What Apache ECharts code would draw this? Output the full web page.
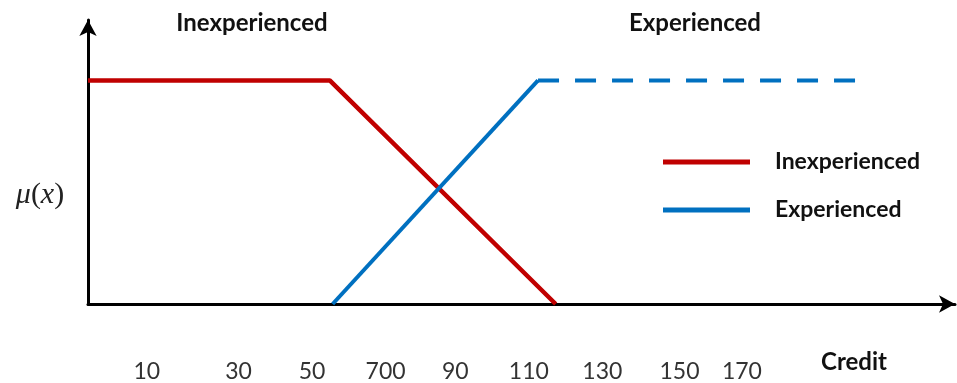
<!DOCTYPE html>
<html><head><meta charset="utf-8">
<script src="https://cdn.jsdelivr.net/npm/echarts@6/dist/echarts.min.js"></script>
<style>html,body{margin:0;padding:0;background:#fff}#c{width:957px;height:383px}</style>
</head><body><div id="c"></div>
<script>
// Credit positions of the tick labels and their texts (as printed)
const tickValues = [5, 30, 50, 70, 89, 109, 129, 150, 167];
const tickLabels = ['10', '30', '50', '700', '90', '110', '130', '150', '170'];
// Membership functions [credit, mu]
const inexperienced = [[-11, 1], [54.8, 1], [116.3, 0]];
const experiencedSolid = [[55.6, 0], [111.5, 1]];
const experiencedDashed = [[111.5, 1], [198, 1]];
const seriesNames = ['Inexperienced', 'Experienced'];

const chart = echarts.init(document.getElementById('c'), null, {renderer: 'canvas'});
const font = 'Lato, "Open Sans", sans-serif';
const serif = '"Liberation Serif", serif';
chart.setOption({
  animation: false,
  backgroundColor: '#fff',
  grid: {left: 88, right: 2, top: 20, bottom: 78, containLabel: false},
  xAxis: {
    type: 'value', min: -11, max: 225,
    axisLine: {show: true, onZero: false, lineStyle: {color: '#000', width: 3}, symbol: ['none', 'arrow'], symbolSize: [13, 16]},
    axisTick: {show: false},
    splitLine: {show: false},
    axisLabel: {
      customValues: tickValues,
      formatter: v => tickLabels[tickValues.indexOf(v)],
      margin: 56, fontSize: 23, color: '#333', fontFamily: font
    }
  },
  yAxis: {
    type: 'value', min: 0, max: 1.27,
    axisLine: {show: true, onZero: false, lineStyle: {color: '#000', width: 3}, symbol: ['none', 'arrow'], symbolSize: [13, 16]},
    axisTick: {show: false}, axisLabel: {show: false}, splitLine: {show: false}
  },
  legend: {
    orient: 'vertical', left: 658, top: 143,
    data: seriesNames,
    icon: 'rect', itemWidth: 87, itemHeight: 5, itemGap: 20,
    textStyle: {fontSize: 23, fontWeight: 'bold', color: '#111', fontFamily: font, lineHeight: 28, padding: [0, 0, 0, 20]}
  },
  series: [
    {name: seriesNames[0], type: 'line', data: inexperienced, symbol: 'none', color: '#C00000', lineStyle: {width: 4.5, color: '#C00000'}},
    {name: seriesNames[1], type: 'line', data: experiencedSolid, symbol: 'none', color: '#0070C0', lineStyle: {width: 4, color: '#0070C0'}},
    {name: seriesNames[1], type: 'line', data: experiencedDashed, symbol: 'none', color: '#0070C0', lineStyle: {width: 4, color: '#0070C0', type: [21, 16]}}
  ],
  graphic: [
    {type: 'text', x: 252, y: 23, style: {text: 'Inexperienced', font: 'bold 24px ' + font, fill: '#111', align: 'center', verticalAlign: 'middle'}},
    {type: 'text', x: 695, y: 23, style: {text: 'Experienced', font: 'bold 24px ' + font, fill: '#111', align: 'center', verticalAlign: 'middle'}},
    {type: 'text', x: 40, y: 195, style: {
      text: '{i|μ}{r|(}{i|x}{r|)}', align: 'center', verticalAlign: 'middle',
      rich: {
        i: {fontFamily: serif, fontStyle: 'italic', fontSize: 30, fill: '#222', color: '#222'},
        r: {fontFamily: serif, fontSize: 30, fill: '#222', color: '#222'}
      }
    }},
    {type: 'text', x: 854, y: 362, style: {text: 'Credit', font: 'bold 24px ' + font, fill: '#111', align: 'center', verticalAlign: 'middle'}}
  ]
});
</script></body></html>
